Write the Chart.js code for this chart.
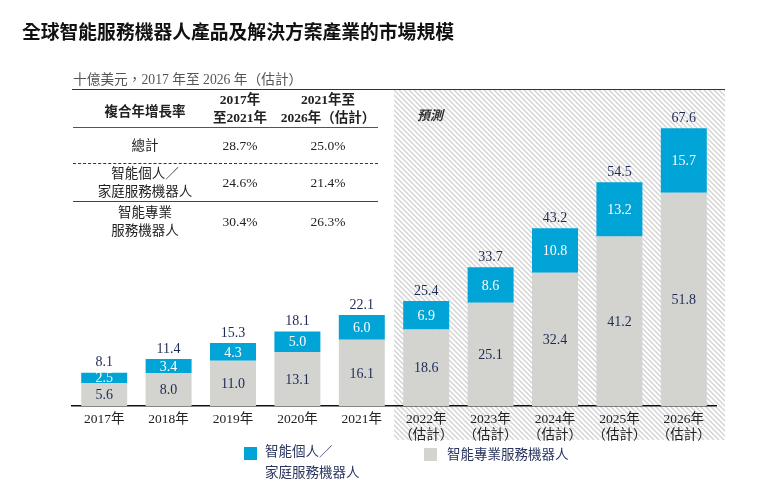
<!DOCTYPE html>
<html>
<head>
<meta charset="utf-8">
<script src="https://cdn.jsdelivr.net/npm/chart.js@4"></script>
<style>
  html, body { margin: 0; padding: 0; background: #fff; }
  body { width: 768px; height: 497px; position: relative; overflow: hidden;
         font-family: "Liberation Serif", "Noto Sans CJK TC", serif; }
  #chart { position: absolute; left: 0; top: 0; }
  .abs { position: absolute; white-space: nowrap; }
  .title { left: 22px; top: 17px; font-size: 18.8px; font-weight: bold; color: #111; }
  .unit { left: 73px; top: 68px; font-size: 13.7px; color: #555; }
  .hline { position: absolute; height: 0; }
  .cell { position: absolute; text-align: center; font-size: 13.5px; line-height: 18px; color: #222; transform: translateX(-50%); }
  .cell.head { font-weight: bold; color: #222; }
  .legend-box { position: absolute; width: 13px; height: 13px; }
  .legend-text { position: absolute; font-size: 13.5px; line-height: 21px; color: #2a3560; }
</style>
</head>
<body>
<canvas id="chart" width="768" height="497"></canvas>
<div class="abs title">全球智能服務機器人產品及解決方案產業的市場規模</div>
<div class="abs unit">十億美元，2017 年至 2026 年（估計）</div>
<div id="table"></div>
<div id="legend"></div>
<script>
// bar chart data (US$ billion)
const years = ['2017年', '2018年', '2019年', '2020年', '2021年',
  ['2022年', '（估計）'], ['2023年', '（估計）'], ['2024年', '（估計）'],
  ['2025年', '（估計）'], ['2026年', '（估計）']];
const professionalRobots = [5.6, 8.0, 11.0, 13.1, 16.1, 18.6, 25.1, 32.4, 41.2, 51.8];
const personalRobots = [2.5, 3.4, 4.3, 5.0, 6.0, 6.9, 8.6, 10.8, 13.2, 15.7];
const totals = [8.1, 11.4, 15.3, 18.1, 22.1, 25.4, 33.7, 43.2, 54.5, 67.6];
const firstForecast = 5;

// CAGR table
const cagrHeaders = ['複合年增長率', '2017年<br>至2021年', '2021年至<br>2026年（估計）'];
const cagrLabels = ['總計', '智能個人／<br>家庭服務機器人', '智能專業<br>服務機器人'];
const cagr2017to2021 = ['28.7%', '24.6%', '30.4%'];
const cagr2021to2026 = ['25.0%', '21.4%', '26.3%'];

const legendLabels = ['智能個人／<br>家庭服務機器人', '智能專業服務機器人'];

const BLUE = '#00a4d6';
const GREY = '#d3d3d0';
const NAVY = '#1e2a55';
const FONT = '"Liberation Serif", "Noto Sans CJK TC", serif';

// table built in html
function buildTable() {
  const t = document.getElementById('table');
  let html = '';
  const line = (y, x1, x2, style) =>
    `<div class="hline" style="left:${x1}px;top:${y}px;width:${x2 - x1}px;border-top:${style}"></div>`;
  html += line(88.5, 72, 725, '1.5px solid #333');
  html += line(127, 73, 378, '1.5px solid #555');
  html += line(163, 73, 378, '1.3px dashed #333');
  html += line(201, 73, 378, '1.3px solid #444');
  const cols = [145, 240, 328];
  const headTop = 91;
  cagrHeaders.forEach((h, i) => {
    const top = i === 0 ? 103 : headTop;
    html += `<div class="cell head" style="left:${cols[i]}px;top:${top}px">${h}</div>`;
  });
  const rowMid = [146, 182.5, 221.5];
  cagrLabels.forEach((lab, r) => {
    const lines = lab.split('<br>').length;
    html += `<div class="cell" style="left:${cols[0]}px;top:${rowMid[r] - lines * 9}px">${lab}</div>`;
    html += `<div class="cell" style="left:${cols[1]}px;top:${rowMid[r] - 9}px">${cagr2017to2021[r]}</div>`;
    html += `<div class="cell" style="left:${cols[2]}px;top:${rowMid[r] - 9}px">${cagr2021to2026[r]}</div>`;
  });
  t.innerHTML = html;
}

function buildLegend() {
  const l = document.getElementById('legend');
  l.innerHTML =
    `<div class="legend-box" style="left:244px;top:447px;background:${BLUE}"></div>` +
    `<div class="legend-text" style="left:265px;top:441px">${legendLabels[0]}</div>` +
    `<div class="legend-box" style="left:424px;top:448px;background:${GREY}"></div>` +
    `<div class="legend-text" style="left:447px;top:444px">${legendLabels[1]}</div>`;
}

buildTable();
buildLegend();

// hatched forecast background
const forecastShade = {
  id: 'forecastShade',
  beforeDraw(chart) {
    const { ctx, chartArea, scales } = chart;
    const x = scales.x;
    const left = (x.getPixelForValue(firstForecast - 1) + x.getPixelForValue(firstForecast)) / 2;
    const right = chartArea.right + 9;
    const top = chartArea.top;
    const bottom = 440;
    ctx.save();
    ctx.beginPath();
    ctx.rect(left, top, right - left, bottom - top);
    ctx.clip();
    ctx.strokeStyle = '#d4d4d4';
    ctx.lineWidth = 1.5;
    const h = bottom - top;
    for (let sx = left - h; sx < right; sx += 5) {
      ctx.beginPath();
      ctx.moveTo(sx, top);
      ctx.lineTo(sx + h, bottom);
      ctx.stroke();
    }
    ctx.restore();

    // forecast tag
    ctx.save();
    ctx.font = 'italic bold 13px ' + FONT;
    ctx.fillStyle = '#333';
    ctx.textBaseline = 'middle';
    ctx.fillText('預測', left + 23, 117);
    ctx.restore();
  }
};

// value labels inside and above bars
const barLabels = {
  id: 'barLabels',
  afterDatasetsDraw(chart) {
    const { ctx } = chart;
    const greyMeta = chart.getDatasetMeta(0);
    const blueMeta = chart.getDatasetMeta(1);
    ctx.save();
    ctx.textAlign = 'center';
    ctx.textBaseline = 'middle';
    ctx.font = '14px ' + FONT;
    greyMeta.data.forEach((bar, i) => {
      ctx.fillStyle = NAVY;
      ctx.fillText(professionalRobots[i].toFixed(1), bar.x, (bar.y + bar.base) / 2 + 1);
    });
    blueMeta.data.forEach((bar, i) => {
      ctx.fillStyle = '#fff';
      ctx.fillText(personalRobots[i].toFixed(1), bar.x, (bar.y + bar.base) / 2 + 1);
      ctx.fillStyle = NAVY;
      ctx.fillText(totals[i].toFixed(1), bar.x, bar.y - 10);
    });
    ctx.restore();
  }
};

new Chart(document.getElementById('chart'), {
  type: 'bar',
  data: {
    labels: years,
    datasets: [
      { label: '智能專業服務機器人', data: professionalRobots, backgroundColor: GREY,
        barPercentage: 0.714, categoryPercentage: 1 },
      { label: '智能個人／家庭服務機器人', data: personalRobots, backgroundColor: BLUE,
        barPercentage: 0.714, categoryPercentage: 1 }
    ]
  },
  options: {
    responsive: false,
    animation: false,
    layout: { padding: { left: 72, right: 52, top: 90, bottom: 31 } },
    plugins: { legend: { display: false }, title: { display: false }, tooltip: { enabled: false } },
    scales: {
      x: {
        stacked: true,
        grid: { display: false, drawTicks: false },
        border: { display: true, color: '#111', width: 1.5 },
        ticks: { color: '#222', font: { family: FONT, size: 13.5 }, padding: 5, maxRotation: 0, autoSkip: false },
        afterFit(scale) { scale.height = 60; }
      },
      y: {
        stacked: true,
        display: false,
        min: 0,
        max: 76.8
      }
    }
  },
  plugins: [forecastShade, barLabels]
});
</script>
</body>
</html>
